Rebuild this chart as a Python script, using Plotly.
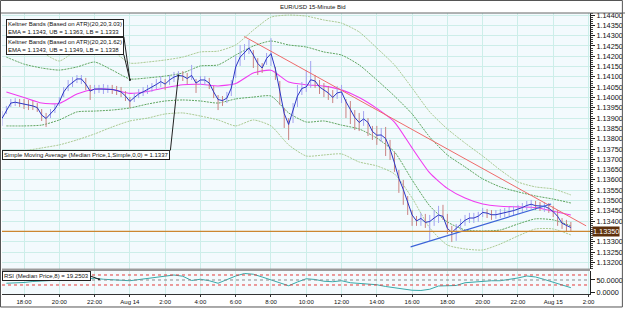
import plotly.graph_objects as go
import pandas as pd

# ---------------- data ----------------
bar_start = "2018-08-13 16:45"
median_price = [
 1.13898, 1.13939, 1.13973, 1.13977, 1.13973, 1.13968, 1.13964, 1.13959, 1.13951, 1.13915,
 1.13898, 1.13922, 1.13944, 1.13978, 1.14027, 1.14056, 1.14075, 1.14090, 1.14090, 1.14065,
 1.14031, 1.14041, 1.14041, 1.14041, 1.14041, 1.14039, 1.14034, 1.14027, 1.14007, 1.13981,
 1.14000, 1.14017, 1.14027, 1.14039, 1.14048, 1.14063, 1.14077, 1.14065, 1.14085, 1.14099,
 1.14107, 1.14104, 1.14092, 1.14107, 1.14070, 1.14085, 1.14085, 1.14070, 1.14027, 1.13990,
 1.13985, 1.13997, 1.14046, 1.14148, 1.14196, 1.14218, 1.14240, 1.14206, 1.14165, 1.14143,
 1.14189, 1.14213, 1.14138, 1.14031, 1.13922, 1.13869, 1.13934, 1.14007, 1.14044, 1.14051,
 1.14086, 1.14080, 1.14051, 1.14036, 1.14022, 1.14000, 1.14022, 1.14027, 1.13980, 1.13942,
 1.13903, 1.13879, 1.13896, 1.13879, 1.13835, 1.13817, 1.13818, 1.13801, 1.13750, 1.13682,
 1.13607, 1.13554, 1.13486, 1.13430, 1.13401, 1.13413, 1.13394, 1.13398, 1.13415, 1.13430,
 1.13423, 1.13365, 1.13345, 1.13365, 1.13386, 1.13404, 1.13415, 1.13415, 1.13424, 1.13442,
 1.13439, 1.13431, 1.13431, 1.13437, 1.13442, 1.13446, 1.13451, 1.13458, 1.13466, 1.13476,
 1.13482, 1.13475, 1.13472, 1.13472, 1.13462, 1.13446, 1.13423, 1.13390, 1.13379, 1.13369]
high_price = [
 1.13934, 1.13959, 1.13993, 1.13997, 1.13993, 1.13993, 1.13988, 1.13983, 1.13973, 1.13944,
 1.13925, 1.13944, 1.13968, 1.14002, 1.14051, 1.14085, 1.14099, 1.14109, 1.14109, 1.14095,
 1.14061, 1.14061, 1.14061, 1.14065, 1.14061, 1.14061, 1.14056, 1.14051, 1.14031, 1.14002,
 1.14022, 1.14041, 1.14051, 1.14061, 1.14070, 1.14090, 1.14104, 1.14090, 1.14109, 1.14124,
 1.14128, 1.14128, 1.14119, 1.14158, 1.14090, 1.14104, 1.14104, 1.14095, 1.14056, 1.14012,
 1.14007, 1.14027, 1.14085, 1.14201, 1.14255, 1.14259, 1.14279, 1.14230, 1.14191, 1.14167,
 1.14216, 1.14288, 1.14148, 1.14080, 1.13949, 1.13900, 1.13973, 1.14061, 1.14075, 1.14133,
 1.14177, 1.14109, 1.14085, 1.14070, 1.14056, 1.14036, 1.14056, 1.14061, 1.13993, 1.13983,
 1.13939, 1.13925, 1.13934, 1.13900, 1.13862, 1.13862, 1.13852, 1.13857, 1.13794, 1.13736,
 1.13648, 1.13600, 1.13522, 1.13454, 1.13425, 1.13440, 1.13435, 1.13430, 1.13454, 1.13474,
 1.13479, 1.13435, 1.13377, 1.13386, 1.13411, 1.13430, 1.13440, 1.13440, 1.13445, 1.13464,
 1.13459, 1.13454, 1.13454, 1.13459, 1.13464, 1.13469, 1.13474, 1.13479, 1.13488, 1.13498,
 1.13503, 1.13498, 1.13493, 1.13493, 1.13488, 1.13474, 1.13454, 1.13415, 1.13406, 1.13396]
low_price = [
 1.13862, 1.13920, 1.13954, 1.13959, 1.13954, 1.13944, 1.13939, 1.13939, 1.13930, 1.13886,
 1.13857, 1.13900, 1.13925, 1.13959, 1.14002, 1.14031, 1.14051, 1.14070, 1.14065, 1.14036,
 1.13988, 1.14017, 1.14022, 1.14017, 1.14022, 1.14017, 1.14012, 1.14002, 1.13983, 1.13949,
 1.13978, 1.13997, 1.14007, 1.14017, 1.14027, 1.14041, 1.14051, 1.14036, 1.14061, 1.14075,
 1.14085, 1.14080, 1.14065, 1.14085, 1.14022, 1.14061, 1.14061, 1.14041, 1.13997, 1.13939,
 1.13959, 1.13973, 1.14007, 1.14095, 1.14153, 1.14182, 1.14211, 1.14143, 1.14109, 1.14119,
 1.14158, 1.14153, 1.14085, 1.13964, 1.13852, 1.13794, 1.13876, 1.13954, 1.14012, 1.14027,
 1.14046, 1.14046, 1.14017, 1.14002, 1.13988, 1.13973, 1.13993, 1.13973, 1.13900, 1.13871,
 1.13842, 1.13837, 1.13862, 1.13813, 1.13794, 1.13770, 1.13784, 1.13716, 1.13697, 1.13639,
 1.13537, 1.13479, 1.13430, 1.13377, 1.13377, 1.13377, 1.13367, 1.13304, 1.13377, 1.13391,
 1.13406, 1.13338, 1.13299, 1.13304, 1.13357, 1.13377, 1.13391, 1.13391, 1.13396, 1.13420,
 1.13415, 1.13406, 1.13411, 1.13415, 1.13420, 1.13425, 1.13430, 1.13435, 1.13445, 1.13454,
 1.13459, 1.13454, 1.13449, 1.13445, 1.13440, 1.13420, 1.13377, 1.13362, 1.13352, 1.13348]

ind_start = "2018-08-13 17:00"   # hourly indicator readings
ema20 = [1.14027, 1.14000, 1.13973, 1.13971, 1.14017, 1.14040, 1.14039, 1.14020, 1.14029, 1.14047,
         1.14062, 1.14064, 1.14056, 1.14068, 1.14119, 1.14132, 1.14075, 1.14062, 1.14055, 1.14037,
         1.14000, 1.13947, 1.13881, 1.13755, 1.13634, 1.13559, 1.13512, 1.13483, 1.13472, 1.13469,
         1.13466, 1.13448, 1.13430]
kb_outer_upper = [1.14327, 1.14279, 1.14221, 1.14177, 1.14230, 1.14240, 1.14225, 1.14167, 1.14172, 1.14182,
                  1.14196, 1.14221, 1.14225, 1.14255, 1.14327, 1.14390, 1.14400, 1.14395, 1.14376, 1.14361,
                  1.14318, 1.14240, 1.14158, 1.14046, 1.13930, 1.13847, 1.13779, 1.13716, 1.13648, 1.13590,
                  1.13566, 1.13556, 1.13527]
kb_inner_upper = [1.14196, 1.14162, 1.14143, 1.14133, 1.14148, 1.14172, 1.14133, 1.14090, 1.14095, 1.14104,
                  1.14119, 1.14153, 1.14158, 1.14206, 1.14250, 1.14274, 1.14255, 1.14245, 1.14221, 1.14206,
                  1.14158, 1.14085, 1.14007, 1.13920, 1.13808, 1.13721, 1.13663, 1.13605, 1.13566, 1.13542,
                  1.13522, 1.13507, 1.13488]
kb_inner_lower = [1.13862, 1.13862, 1.13866, 1.13891, 1.13930, 1.13934, 1.13939, 1.13949, 1.13968, 1.13983,
                  1.13988, 1.13983, 1.13973, 1.13993, 1.14002, 1.14007, 1.13925, 1.13881, 1.13886, 1.13866,
                  1.13847, 1.13803, 1.13736, 1.13600, 1.13474, 1.13396, 1.13357, 1.13352, 1.13357, 1.13386,
                  1.13411, 1.13406, 1.13377]
kb_outer_lower = [1.13716, 1.13740, 1.13755, 1.13770, 1.13794, 1.13823, 1.13857, 1.13886, 1.13900, 1.13920,
                  1.13925, 1.13910, 1.13891, 1.13862, 1.13891, 1.13862, 1.13770, 1.13716, 1.13721, 1.13726,
                  1.13687, 1.13668, 1.13629, 1.13512, 1.13367, 1.13284, 1.13265, 1.13260, 1.13289, 1.13328,
                  1.13362, 1.13362, 1.13333]

rsi_start = "2018-08-13 17:00"   # half-hourly RSI readings
rsi8 = [37, 38, 40, 44, 46, 48, 50, 52, 54, 55, 57, 53, 50, 49, 47, 52, 57, 62, 66, 70,
        65, 48, 53, 47, 37, 52, 66, 76, 73, 62, 50, 36, 27, 42, 55, 52, 45, 43, 47, 39,
        36, 33, 31, 24, 18, 12, 9, 8, 13, 26, 26, 28, 39, 42, 44, 47, 47, 52, 58, 66,
        62, 52, 42, 30, 19.25]

down_trend_t = ["2018-08-14 06:29", "2018-08-15 01:52"]
down_trend_p = [1.14296, 1.13377]
up_trend_t = ["2018-08-14 15:55", "2018-08-14 23:53"]
up_trend_p = [1.13275, 1.13483]
current_price = 1.1335
rsi_levels = [70, 50, 30]
rsi_ticks = [0, 50]

price_ticks = [1.1320, 1.1325, 1.1330, 1.1335, 1.1340, 1.1345, 1.1350, 1.1355, 1.1360, 1.1365,
               1.1370, 1.1375, 1.1380, 1.1385, 1.1390, 1.1395, 1.1400, 1.1405, 1.1410, 1.1415,
               1.1420, 1.1425, 1.1430, 1.1435, 1.1440]

tick_times = ["2018-08-13 18:00", "2018-08-13 20:00", "2018-08-13 22:00", "2018-08-14 00:00",
              "2018-08-14 02:00", "2018-08-14 04:00", "2018-08-14 06:00", "2018-08-14 08:00",
              "2018-08-14 10:00", "2018-08-14 12:00", "2018-08-14 14:00", "2018-08-14 16:00",
              "2018-08-14 18:00", "2018-08-14 20:00", "2018-08-14 22:00", "2018-08-15 00:00",
              "2018-08-15 02:00"]
tick_labels = ["18:00", "20:00", "22:00", "Aug 14", "2:00", "4:00", "6:00", "8:00", "10:00",
               "12:00", "14:00", "16:00", "18:00", "20:00", "22:00", "Aug 15", "2:00"]

# ---------------- figure ----------------
FONT = "Liberation Sans"
bar_t = pd.date_range(bar_start, periods=len(median_price), freq="15min")
ind_t = pd.date_range(ind_start, periods=len(ema20), freq="1h")
rsi_t = pd.date_range(rsi_start, periods=len(rsi8), freq="30min")

fig = go.Figure()

band_style = [(kb_outer_upper, "#a3c487"), (kb_inner_upper, "#4f9c4f"),
              (kb_inner_lower, "#4f9c4f"), (kb_outer_lower, "#a3c487")]
for vals, col in band_style:
    fig.add_trace(go.Scatter(x=ind_t, y=vals, mode="lines", xaxis="x", yaxis="y",
                             line=dict(color=col, width=0.9, dash="2px,1px", shape="spline", smoothing=0.6),
                             hoverinfo="skip", showlegend=False))
fig.add_trace(go.Scatter(x=ind_t, y=ema20, mode="lines", xaxis="x", yaxis="y",
                         line=dict(color="#f03cf0", width=1.1, shape="spline", smoothing=0.6),
                         showlegend=False))

# high-low bars
up_x, up_y, dn_x, dn_y = [], [], [], []
for i, t in enumerate(bar_t):
    rising = i == 0 or median_price[i] >= median_price[i - 1]
    xs, ys = (up_x, up_y) if rising else (dn_x, dn_y)
    xs += [t, t, None]
    ys += [low_price[i], high_price[i], None]
fig.add_trace(go.Scatter(x=up_x, y=up_y, mode="lines", xaxis="x", yaxis="y",
                         line=dict(color="#a3a3f0", width=1), showlegend=False, hoverinfo="skip"))
fig.add_trace(go.Scatter(x=dn_x, y=dn_y, mode="lines", xaxis="x", yaxis="y",
                         line=dict(color="#c98383", width=1), showlegend=False, hoverinfo="skip"))
fig.add_trace(go.Scatter(x=bar_t, y=median_price, mode="lines", xaxis="x", yaxis="y",
                         line=dict(color="#2a35c4", width=1), showlegend=False))

# trend lines
fig.add_trace(go.Scatter(x=down_trend_t, y=down_trend_p, mode="lines", xaxis="x", yaxis="y",
                         line=dict(color="#ee6a6a", width=1), showlegend=False))
fig.add_trace(go.Scatter(x=up_trend_t, y=up_trend_p, mode="lines", xaxis="x", yaxis="y",
                         line=dict(color="#3c63d8", width=1.1), showlegend=False))

# RSI
fig.add_trace(go.Scatter(x=rsi_t, y=rsi8, mode="lines", xaxis="x", yaxis="y2",
                         line=dict(color="#3aa9a9", width=1), showlegend=False))

shapes = []
shapes.append(dict(type="line", xref="paper", yref="y", x0=0, x1=1, y0=current_price, y1=current_price,
                   line=dict(color="#cc8630", width=1.2)))
for lv in rsi_levels:
    shapes.append(dict(type="line", xref="paper", yref="y2", x0=0, x1=1, y0=lv, y1=lv,
                       line=dict(color="#e33b3b" if lv != 50 else "#888888", width=1, dash="dot")))
# panel separator, title bar rule, outer frame
shapes.append(dict(type="rect", xref="paper", yref="paper", x0=0, x1=1, y0=0.0819, y1=0.0907,
                   fillcolor="#9b9b9b", line=dict(width=0), layer="above"))
shapes.append(dict(type="line", xref="paper", yref="paper", x0=-0.0034, x1=1.06, y0=1.0, y1=1.0,
                   line=dict(color="#666666", width=1)))
shapes.append(dict(type="rect", xref="paper", yref="paper", x0=-0.00254, x1=1.05508,
                   y0=-0.04626, y1=1.04448, line=dict(color="#555555", width=1)))

small = dict(family=FONT, size=6, color="#111111")
axisfont = dict(family=FONT, size=7.3, color="#111111")
box = dict(xref="x", showarrow=True, align="left", font=small, bgcolor="white",
           bordercolor="#222222", borderwidth=1, borderpad=1, arrowhead=6, arrowsize=0.5,
           arrowwidth=1, arrowcolor="#222222")

callouts = [
    ("Keltner Bands (Based on ATR)(20,20,3.03)<br>EMA = 1.1343, UB = 1.1363, LB = 1.1333",
     "2018-08-14 00:00", 1.14086, "y", -6, -43, "right", "bottom"),
    ("Keltner Bands (Based on ATR)(20,20,1.62)<br>EMA = 1.1343, UB = 1.1349, LB = 1.1338",
     "2018-08-14 00:00", 1.14086, "y", -6, -25, "right", "bottom"),
    ("Simple Moving Average (Median Price,1,Simple,0,0) = 1.1337",
     bar_t[40], median_price[40], "y", -8, 75, "right", "top"),
    ("RSI (Median Price,8) = 19.2503",
     "2018-08-13 22:15", 53, "y2", -8, -3, "right", "middle"),
]
annotations = [
    dict(text="EUR/USD 15-Minute Bid", xref="paper", yref="paper", x=0.529, y=1.0214,
         showarrow=False, font=small, xanchor="center", yanchor="middle"),
]
for text, cx, cy, yr, ax, ay, xa, ya in callouts:
    annotations.append(dict(box, text=text, x=cx, y=cy, yref=yr, ax=ax, ay=ay, xanchor=xa, yanchor=ya))
annotations.append(dict(text="%.5f" % current_price, xref="paper", yref="y", x=1.0034, y=current_price,
                        showarrow=False, xanchor="left", yanchor="middle", bgcolor="#5e300c",
                        font=dict(family=FONT, size=7.3, color="white"), borderpad=0))

grid = "#cdeee9"
fig.update_layout(
    width=625, height=309, margin=dict(l=2, r=33, t=13, b=15),
    paper_bgcolor="white", plot_bgcolor="#f3fafd",
    font=small, showlegend=False,
    xaxis=dict(type="date", domain=[0, 1], anchor="y2",
               range=["2018-08-13 16:45:04", "2018-08-15 02:05:06"],
               tickvals=tick_times, ticktext=tick_labels, tickfont=small,
               showgrid=True, gridcolor=grid, gridwidth=1, zeroline=False,
               showline=True, linecolor="#333333", ticks="outside", ticklen=2, tickcolor="#333333"),
    yaxis=dict(domain=[0.0907, 1], anchor="x", side="right", range=[1.13170, 1.14410],
               tickvals=price_ticks,
               ticktext=["" if abs(v - current_price) < 1e-9 else "%.5f" % v for v in price_ticks],
               tickfont=axisfont, ticks="outside", ticklen=4, tickcolor="#222222",
               minor=dict(dtick=0.0001, tick0=1.132, ticks="outside", ticklen=2,
                          tickcolor="#444444", showgrid=False),
               showgrid=True, gridcolor=grid, zeroline=False,
               showline=True, linecolor="#222222"),
    yaxis2=dict(domain=[0, 0.0819], anchor="x", side="right", range=[-6, 86],
                tickvals=rsi_ticks, ticktext=["%.4f" % v for v in rsi_ticks], tickfont=axisfont,
                ticks="outside", ticklen=4, tickcolor="#222222",
                showgrid=False, zeroline=False, showline=True, linecolor="#222222"),
    shapes=shapes, annotations=annotations,
)

fig.write_html("out.html")
